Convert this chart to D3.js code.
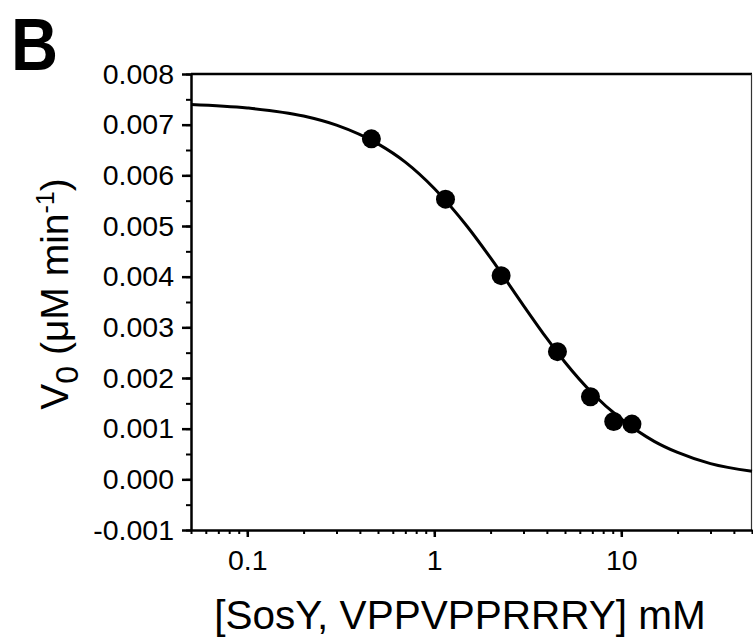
<!DOCTYPE html>
<html>
<head>
<meta charset="utf-8">
<script src="https://cdn.jsdelivr.net/npm/d3@7"></script>
<style>
  body { margin: 0; background: #fff; }
  svg { display: block; }
  text { font-family: "Liberation Sans", Arial, sans-serif; fill: #000; }
</style>
</head>
<body>
<svg id="chart"></svg>
<script>
// measured points
const concentrations = [0.461, 1.148, 2.277, 4.556, 6.84, 9.11, 11.40];
const rates = [0.00672, 0.00553, 0.00402, 0.00252, 0.00163, 0.00114, 0.00109];

// fitted curve
const fitX = [0.05, 0.1, 0.2, 0.3, 0.5, 0.7, 1, 1.5, 2, 3, 4, 5, 7, 10, 15, 20, 30, 50];
const fitY = [0.00740, 0.00733, 0.00717, 0.00699, 0.00662, 0.00626, 0.00574, 0.00499, 0.00437,
              0.00343, 0.00278, 0.00231, 0.00170, 0.00119, 0.00075, 0.00053, 0.00031, 0.00016];

const xTickLabels = [0.1, 1, 10];
const yTickLabels = [-0.001, 0, 0.001, 0.002, 0.003, 0.004, 0.005, 0.006, 0.007, 0.008];

const svg = d3.select("#chart")
  .attr("width", 753)
  .attr("height", 640);

const plot = { left: 191, right: 752, top: 74, bottom: 530 };

const x = d3.scaleLog()
  .domain([0.05, 50])
  .range([plot.left, plot.right]);

const y = d3.scaleLinear()
  .domain([-0.001, 0.008])
  .range([plot.bottom, plot.top]);

// frame: heavy top, thin right
svg.append("line")
  .attr("x1", plot.left).attr("x2", plot.right)
  .attr("y1", plot.top).attr("y2", plot.top)
  .attr("stroke", "#000")
  .attr("stroke-width", 2.5);

svg.append("line")
  .attr("x1", plot.right - 0.5).attr("x2", plot.right - 0.5)
  .attr("y1", plot.top).attr("y2", plot.bottom)
  .attr("stroke", "#333")
  .attr("stroke-width", 1.2);

// fit line
const line = d3.line()
  .x((d, i) => x(fitX[i]))
  .y(d => y(d))
  .curve(d3.curveMonotoneX);

svg.append("path")
  .attr("d", line(fitY))
  .attr("fill", "none")
  .attr("stroke", "#000")
  .attr("stroke-width", 3);

svg.selectAll("circle")
  .data(concentrations)
  .enter().append("circle")
  .attr("cx", d => x(d))
  .attr("cy", (d, i) => y(rates[i]))
  .attr("r", 9.5)
  .attr("fill", "#000");

// x axis: minor ticks then labelled majors
svg.append("g")
  .attr("transform", `translate(0,${plot.bottom})`)
  .call(d3.axisBottom(x).tickValues(x.ticks()).tickSize(4).tickFormat(""))
  .call(g => g.select(".domain").remove())
  .selectAll("line").attr("stroke-width", 2);

svg.append("g")
  .attr("transform", `translate(0,${plot.bottom})`)
  .call(d3.axisBottom(x).tickValues(xTickLabels).tickSize(7).tickSizeOuter(0).tickPadding(13)
    .tickFormat(d => String(d)))
  .call(g => g.select(".domain").attr("stroke-width", 2.5))
  .call(g => g.selectAll("line").attr("stroke-width", 2.5))
  .call(g => g.selectAll("text").attr("font-size", 28.5).attr("font-family", null));

// y axis
svg.append("g")
  .attr("transform", `translate(${plot.left},0)`)
  .call(d3.axisLeft(y).ticks(18).tickSize(5).tickFormat(""))
  .call(g => g.select(".domain").remove())
  .selectAll("line").attr("stroke-width", 2);

svg.append("g")
  .attr("transform", `translate(${plot.left},0)`)
  .call(d3.axisLeft(y).tickValues(yTickLabels).tickSize(9).tickSizeOuter(0).tickPadding(8)
    .tickFormat(d => d3.format(".3f")(d).replace("\u2212", "-")))
  .call(g => g.select(".domain").attr("stroke-width", 2.5))
  .call(g => g.selectAll("line").attr("stroke-width", 2.5))
  .call(g => g.selectAll("text").attr("font-size", 28.5).attr("font-family", null));

// axis titles
svg.append("text")
  .attr("x", 460)
  .attr("y", 629)
  .attr("text-anchor", "middle")
  .attr("font-size", 40.5)
  .text("[SosY, VPPVPPRRRY] mM");

const yTitle = svg.append("text")
  .attr("transform", "translate(68,294) rotate(-90)")
  .attr("text-anchor", "middle")
  .attr("font-size", 39);
yTitle.append("tspan").text("V");
yTitle.append("tspan").attr("font-size", 32).attr("dy", 10).text("0");
yTitle.append("tspan").attr("dy", -10).text(" (\u03bcM min");
yTitle.append("tspan").attr("font-size", 25).attr("dy", -14).text("-1");
yTitle.append("tspan").attr("dy", 14).text(")");

// panel letter
svg.append("text")
  .attr("transform", "translate(11,70) scale(0.88,1)")
  .attr("font-size", 74)
  .attr("font-weight", "bold")
  .text("B");
</script>
</body>
</html>
